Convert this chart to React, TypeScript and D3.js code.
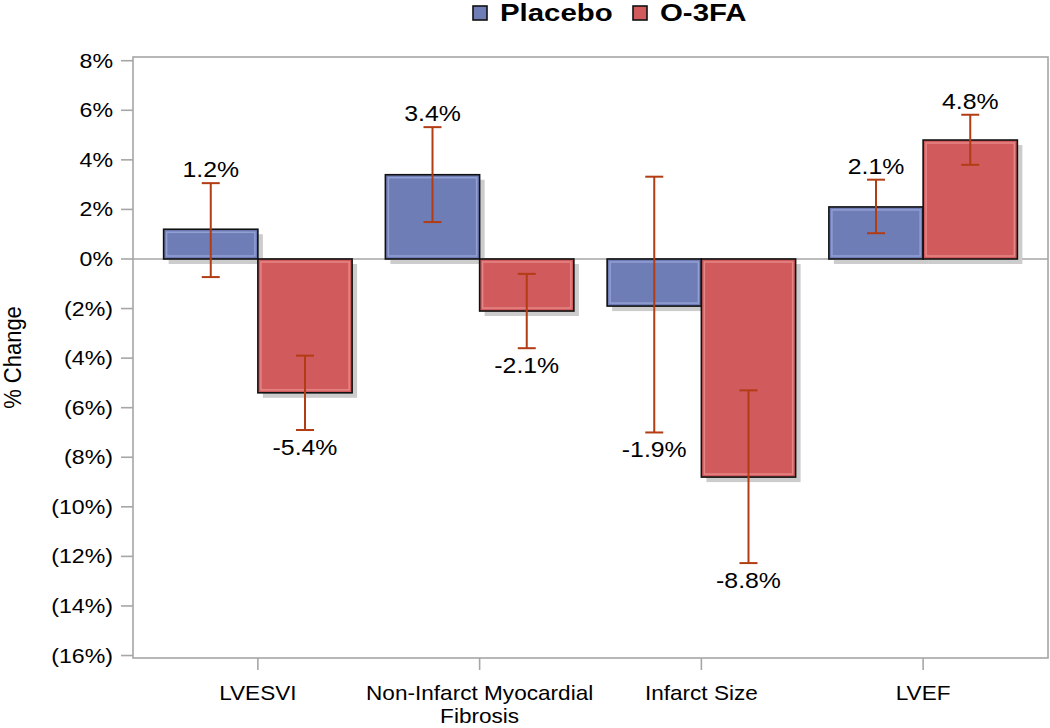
import React, { useEffect, useRef } from 'react';
import * as d3 from 'd3';

// chart data
const categories = ['LVESVI', 'Non-Infarct Myocardial Fibrosis', 'Infarct Size', 'LVEF'];
const seriesNames = ['Placebo', 'O-3FA'];
const placeboValues = [1.2, 3.4, -1.9, 2.1];
const placeboLower = [-0.73, 1.49, -7.0, 1.04];
const placeboUpper = [3.06, 5.32, 3.32, 3.2];
const o3faValues = [-5.4, -2.1, -8.8, 4.8];
const o3faLower = [-6.9, -3.6, -12.27, 3.8];
const o3faUpper = [-3.9, -0.6, -5.3, 5.82];
const yTicks = [8, 6, 4, 2, 0, -2, -4, -6, -8, -10, -12, -14, -16];

const FONT = '"Liberation Sans", Arial, sans-serif';
const STRETCH = 1.13; // text in the picture is a little wide

function App() {
    const svgRef = useRef(null);

    useEffect(() => {
        const width = 1050;
        const height = 728;
        const svg = d3.select(svgRef.current)
            .attr('width', width)
            .attr('height', height);

        svg.selectAll('*').remove();

        const left = 133, right = 1048, top = 57, bottom = 658;

        // scales
        const x = d3.scaleBand()
            .domain(categories)
            .range([147, 1034])
            .padding(0);
        const bw = x.bandwidth();
        const barW = bw * 0.425;

        const y = d3.scaleLinear()
            .domain([-16.1, 8.15])
            .range([bottom, top]);

        const fmt = (v) => (v < 0 ? `(${Math.abs(v)}%)` : `${v}%`);

        // frame
        svg.append('rect')
            .attr('x', left)
            .attr('y', top)
            .attr('width', right - left)
            .attr('height', bottom - top)
            .attr('fill', 'none')
            .attr('stroke', '#a6a6a6')
            .attr('stroke-width', 1.6);

        // y ticks + labels
        const yg = svg.append('g');
        yTicks.forEach((t) => {
            yg.append('line')
                .attr('x1', left - 12)
                .attr('x2', left)
                .attr('y1', y(t))
                .attr('y2', y(t))
                .attr('stroke', '#a6a6a6')
                .attr('stroke-width', 1.6);
            yg.append('text')
                .attr('transform', `translate(113, ${y(t) + 7}) scale(${STRETCH},1)`)
                .attr('text-anchor', 'end')
                .style('font-family', FONT)
                .style('font-size', '20.5px')
                .style('fill', '#000')
                .text(fmt(t));
        });

        // y axis title
        svg.append('text')
            .attr('transform', `translate(21, ${(top + bottom) / 2}) rotate(-90) scale(1,1.05)`)
            .attr('text-anchor', 'middle')
            .style('font-family', FONT)
            .style('font-size', '22px')
            .style('fill', '#000')
            .text('% Change');

        // x ticks + wrapped labels
        const xg = svg.append('g');
        categories.forEach((c) => {
            const cx = x(c) + bw / 2;
            xg.append('line')
                .attr('x1', cx)
                .attr('x2', cx)
                .attr('y1', bottom)
                .attr('y2', bottom + 12)
                .attr('stroke', '#a6a6a6')
                .attr('stroke-width', 1.6);
            const text = xg.append('text')
                .attr('transform', `translate(${cx}, 700) scale(${STRETCH},1)`)
                .attr('text-anchor', 'middle')
                .style('font-family', FONT)
                .style('font-size', '20px')
                .style('fill', '#000');
            // simple word wrap
            const words = c.split(' ');
            let line = [];
            let tspan = text.append('tspan').attr('x', 0).attr('dy', 0);
            words.forEach((w) => {
                line.push(w);
                tspan.text(line.join(' '));
                if (tspan.node().getComputedTextLength() > 235 && line.length > 1) {
                    line.pop();
                    tspan.text(line.join(' '));
                    line = [w];
                    tspan = text.append('tspan').attr('x', 0).attr('dy', 23).text(w);
                }
            });
        });

        // zero reference line
        svg.append('line')
            .attr('x1', left)
            .attr('x2', right)
            .attr('y1', y(0))
            .attr('y2', y(0))
            .attr('stroke', '#a6a6a6')
            .attr('stroke-width', 1.6);

        const series = [
            { name: seriesNames[0], values: placeboValues, lo: placeboLower, hi: placeboUpper, fill: '#6e7db6', light: '#a3aee0', offset: -1 },
            { name: seriesNames[1], values: o3faValues, lo: o3faLower, hi: o3faUpper, fill: '#d05a5c', light: '#f09a9a', offset: 0 },
        ];

        // shadows
        series.forEach((s) => {
            svg.append('g')
                .selectAll('rect')
                .data(s.values)
                .enter()
                .append('rect')
                .attr('x', (d, i) => x(categories[i]) + bw / 2 + s.offset * barW + 5)
                .attr('y', (d) => Math.min(y(d), y(0)) + 5)
                .attr('width', barW)
                .attr('height', (d) => Math.abs(y(d) - y(0)))
                .attr('fill', '#cccccc');
        });

        // bars
        series.forEach((s) => {
            const g = svg.append('g');
            const bx = (i) => x(categories[i]) + bw / 2 + s.offset * barW;
            g.selectAll('rect.bar')
                .data(s.values)
                .enter()
                .append('rect')
                .attr('class', 'bar')
                .attr('x', (d, i) => bx(i))
                .attr('y', (d) => Math.min(y(d), y(0)))
                .attr('width', barW)
                .attr('height', (d) => Math.abs(y(d) - y(0)))
                .attr('fill', s.fill)
                .attr('stroke', '#111')
                .attr('stroke-width', 1.6);
            // inner highlight
            g.selectAll('rect.hl')
                .data(s.values)
                .enter()
                .append('rect')
                .attr('class', 'hl')
                .attr('x', (d, i) => bx(i) + 3)
                .attr('y', (d) => Math.min(y(d), y(0)) + 3)
                .attr('width', barW - 6)
                .attr('height', (d) => Math.max(0, Math.abs(y(d) - y(0)) - 6))
                .attr('fill', 'none')
                .attr('stroke', s.light)
                .attr('stroke-opacity', 0.7)
                .attr('stroke-width', 1.5);
        });

        // error bars + value labels
        series.forEach((s) => {
            const g = svg.append('g');
            s.values.forEach((v, i) => {
                const cx = x(categories[i]) + bw / 2 + s.offset * barW + barW / 2;
                const col = '#b23c14';
                g.append('line')
                    .attr('x1', cx).attr('x2', cx)
                    .attr('y1', y(s.lo[i])).attr('y2', y(s.hi[i]))
                    .attr('stroke', col).attr('stroke-width', 2);
                [s.lo[i], s.hi[i]].forEach((e) => {
                    g.append('line')
                        .attr('x1', cx - 9).attr('x2', cx + 9)
                        .attr('y1', y(e)).attr('y2', y(e))
                        .attr('stroke', col).attr('stroke-width', 2);
                });
                const ly = v >= 0 ? y(s.hi[i]) - 6 : y(s.lo[i]) + 25;
                g.append('text')
                    .attr('transform', `translate(${cx}, ${ly}) scale(${STRETCH},1)`)
                    .attr('text-anchor', 'middle')
                    .style('font-family', FONT)
                    .style('font-size', '22px')
                    .style('fill', '#000')
                    .text(`${v.toFixed(1)}%`);
            });
        });

        // legend
        const legend = svg.append('g');
        const legendX = [473, 633];
        series.forEach((s, i) => {
            legend.append('rect')
                .attr('x', legendX[i])
                .attr('y', 6)
                .attr('width', 14)
                .attr('height', 14)
                .attr('fill', s.fill)
                .attr('stroke', '#111')
                .attr('stroke-width', 1.6);
            legend.append('text')
                .attr('transform', `translate(${legendX[i] + 27}, 21) scale(1.2,1)`)
                .style('font-family', FONT)
                .style('font-size', '24.5px')
                .style('font-weight', 'bold')
                .style('fill', '#000')
                .text(s.name);
        });
    }, []);

    return (
        <div style={{ position: 'absolute', left: 0, top: 0 }}>
            <svg ref={svgRef} style={{ display: 'block', background: '#fff' }}></svg>
        </div>
    );
}

export default App;
